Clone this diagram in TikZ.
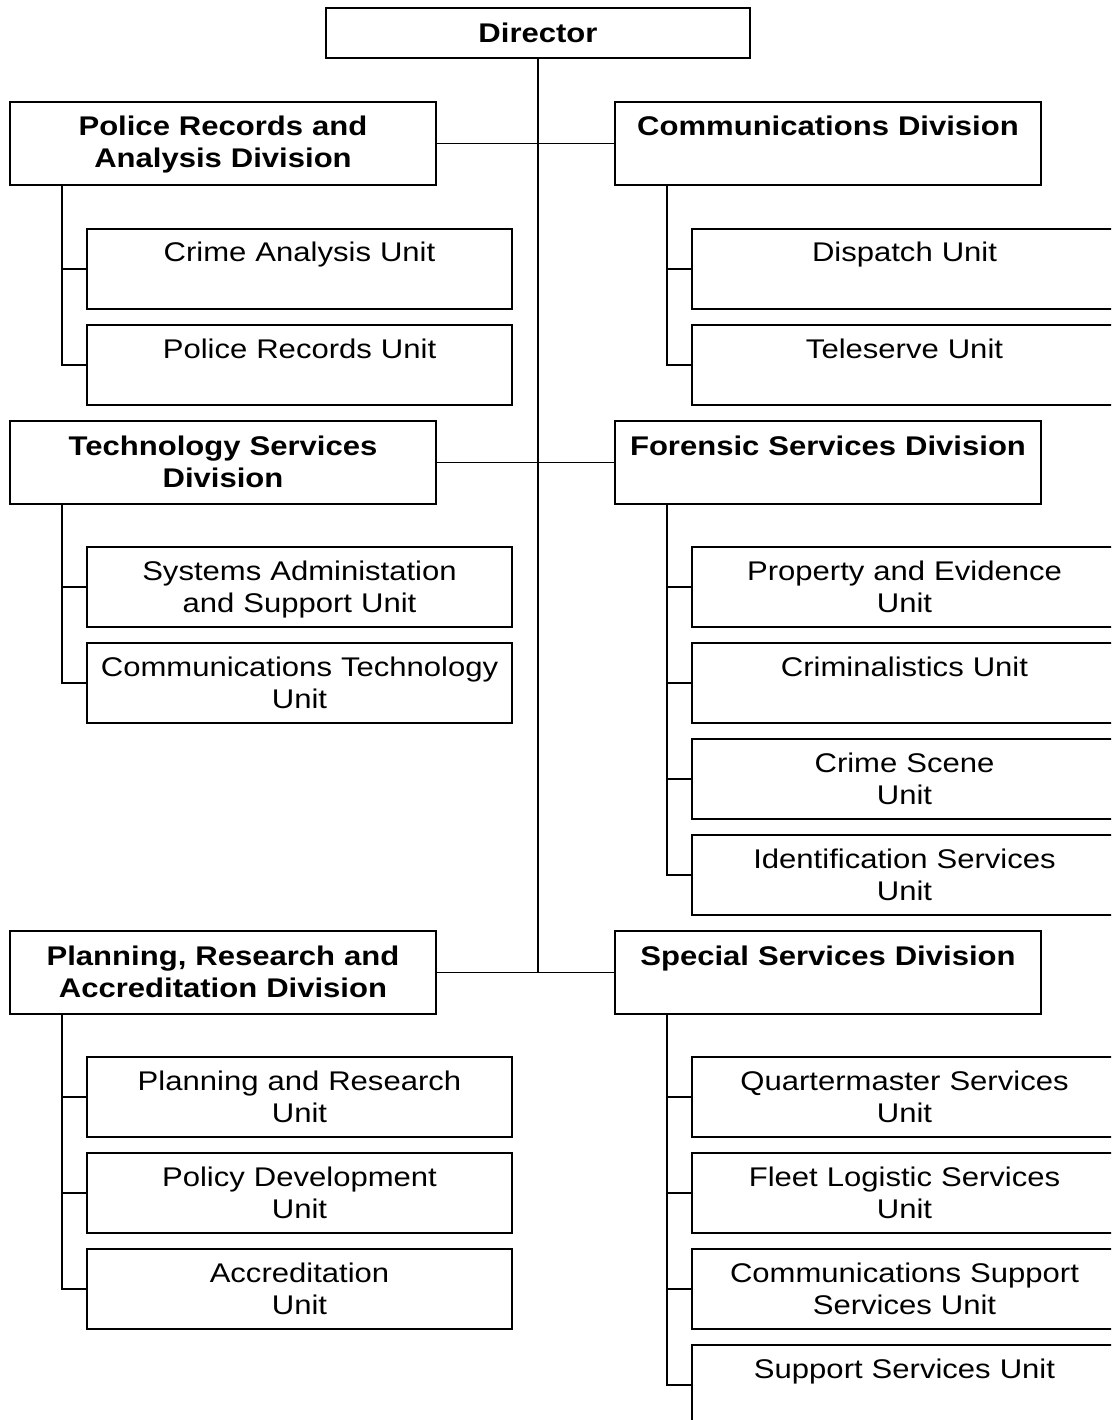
\documentclass[tikz,border=0pt]{standalone}
\usepackage{fontspec}
\setmainfont{Liberation Sans}[FakeStretch=1.15]
\begin{document}
\begin{tikzpicture}[x=1pt,y=-1pt,
  line width=1.8pt,
  every node/.style={font=\fontsize{27}{32}\selectfont, inner sep=0pt, outer sep=0pt},
  dirbox/.style={draw, anchor=north west, minimum width=424pt, minimum height=50pt, font=\fontsize{27}{32}\selectfont\bfseries},
  divbox/.style={draw, anchor=north west, minimum width=426pt, text width=416pt, align=center,
    text height=34pt, text depth=49pt, font=\fontsize{27}{32}\selectfont\bfseries},
  unitbox/.style={draw, anchor=north west, minimum width=425pt, text width=418pt, align=center,
    text height=33pt, text depth=47pt},
  link/.style={line width=1.8pt}]
\useasboundingbox (0,0) rectangle (1111,1420);
\fill[white] (0,0) rectangle (1111,1420);
\clip (0,0) rectangle (1111,1420);

% head of the organisation
\node[dirbox] (dir) at (326,8) {Director};

% divisions
\node[divbox] (pol)  at (10,102)  {Police Records and\\Analysis Division};
\node[divbox] (comm) at (615,102) {Communications Division};
\node[divbox] (tech) at (10,421)  {Technology Services\\Division};
\node[divbox] (for)  at (615,421) {Forensic Services Division};
\node[divbox] (plan) at (10,931)  {Planning, Research and\\Accreditation Division};
\node[divbox] (spec) at (615,931) {Special Services Division};

% units, left column
\node[unitbox] (cau) at (87,229)  {Crime Analysis Unit};
\node[unitbox] (pru) at (87,325)  {Police Records Unit};
\node[unitbox] (sas) at (87,547)  {Systems Administation\\and Support Unit};
\node[unitbox] (ctu) at (87,643)  {Communications Technology\\Unit};
\node[unitbox] (pr)  at (87,1057) {Planning and Research\\Unit};
\node[unitbox] (pd)  at (87,1153) {Policy Development\\Unit};
\node[unitbox] (acc) at (87,1249) {Accreditation\\Unit};

% units, right column
\node[unitbox] (disp) at (692,229)  {Dispatch Unit};
\node[unitbox] (tel)  at (692,325)  {Teleserve Unit};
\node[unitbox] (pe)   at (692,547)  {Property and Evidence\\Unit};
\node[unitbox] (crim) at (692,643)  {Criminalistics Unit};
\node[unitbox] (cs)   at (692,739)  {Crime Scene\\Unit};
\node[unitbox] (ids)  at (692,835)  {Identification Services\\Unit};
\node[unitbox] (qm)   at (692,1057) {Quartermaster Services\\Unit};
\node[unitbox] (fl)   at (692,1153) {Fleet Logistic Services\\Unit};
\node[unitbox] (csu)  at (692,1249) {Communications Support\\Services Unit};
\node[unitbox] (ssu)  at (692,1345) {Support Services Unit};

% main trunk and division links
\draw[link] (dir.south) -- (dir.south |- plan.east);
\draw[link] (pol.east)  -- (comm.west);
\draw[link] (tech.east) -- (for.west);
\draw[link] (plan.east) -- (spec.west);

% unit links
\draw[link] ([xshift=52pt]pol.south west)  |- (pru.west);
\draw[link] (cau.west) -- ++(-25,0);
\draw[link] ([xshift=52pt]comm.south west) |- (tel.west);
\draw[link] (disp.west) -- ++(-25,0);
\draw[link] ([xshift=52pt]tech.south west) |- (ctu.west);
\draw[link] (sas.west) -- ++(-25,0);
\draw[link] ([xshift=52pt]for.south west)  |- (ids.west);
\draw[link] (pe.west) -- ++(-25,0);
\draw[link] (crim.west) -- ++(-25,0);
\draw[link] (cs.west) -- ++(-25,0);
\draw[link] ([xshift=52pt]plan.south west) |- (acc.west);
\draw[link] (pr.west) -- ++(-25,0);
\draw[link] (pd.west) -- ++(-25,0);
\draw[link] ([xshift=52pt]spec.south west) |- (ssu.west);
\draw[link] (qm.west) -- ++(-25,0);
\draw[link] (fl.west) -- ++(-25,0);
\draw[link] (csu.west) -- ++(-25,0);
\end{tikzpicture}
\end{document}
